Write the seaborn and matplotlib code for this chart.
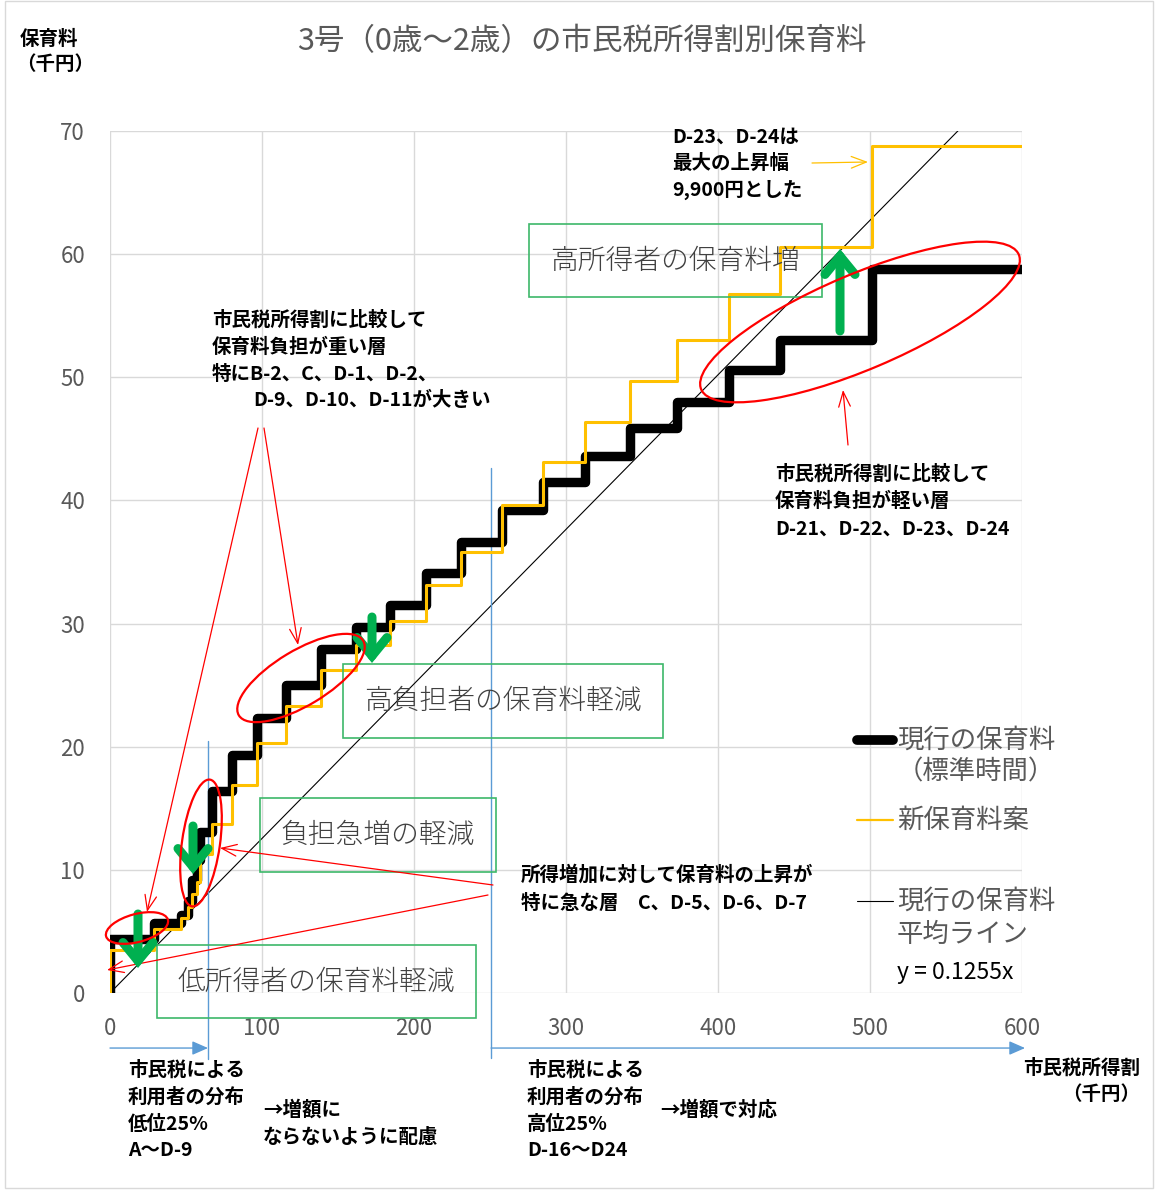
import numpy as np
import pandas as pd
import seaborn as sns
import matplotlib.pyplot as plt
from matplotlib.patches import Ellipse, Rectangle
from matplotlib.lines import Line2D

# --- data (千円) ---
bracket_start = [0, 29, 47, 51.5, 54, 57, 59.5, 67, 80, 96.5, 115.5, 139, 162, 184.5,
                 208, 231, 258, 285, 312.5, 342, 373, 407, 441, 501]
x_end = 600
fee_current = [4.4, 5.7, 6.3, 7.5, 9.2, 10.8, 13.1, 16.4, 19.3, 22.3, 25.0, 27.9, 29.7,
               31.5, 34.1, 36.6, 39.2, 41.5, 43.6, 45.9, 48.0, 50.6, 53.0, 58.8]
fee_new = [3.5, 5.2, 6.1, 7.0, 8.0, 9.0, 11.3, 13.7, 16.9, 20.3, 23.3, 26.2, 28.3,
           30.2, 33.1, 35.8, 39.6, 43.1, 46.4, 49.7, 53.0, 56.8, 60.6, 68.8]
avg_slope = 0.1255
low25_x = 64.5     # 低位25% boundary
high25_x = 250.7   # 高位25% boundary

# --- style ---
sns.set_theme(style="white")
plt.rcParams['font.family'] = ['Noto Sans CJK JP', 'DejaVu Sans']

W, H = 1155, 1191
fig = plt.figure(figsize=(W / 100, H / 100), dpi=100)
ax = fig.add_axes([110 / W, 1 - 993 / H, (1022 - 110) / W, (993 - 131) / H])
T = fig.dpi_scale_trans


def px(x, y):
    # reference pixel (from top-left) -> inches for dpi_scale_trans
    return x / 100, (H - y) / 100


def put_lines(x, y0, lines, dy, **kw):
    for i, s in enumerate(lines):
        fig.text(*px(x, y0 + i * dy), s, transform=T, va='center', **kw)


# step series
x_pts = [0] + bracket_start + [x_end]
df = pd.DataFrame({
    'income': x_pts,
    'current': [0] + fee_current + [fee_current[-1]],
    'new': [0] + fee_new + [fee_new[-1]],
})
x_ref = np.array([0, x_end])
df_ref = pd.DataFrame({'income': x_ref, 'avg': avg_slope * x_ref})

sns.lineplot(data=df_ref, x='income', y='avg', ax=ax, color='black', lw=0.8,
             estimator=None, sort=False, zorder=2)
sns.lineplot(data=df, x='income', y='current', ax=ax, color='black', lw=6.8,
             estimator=None, sort=False, drawstyle='steps-post',
             solid_joinstyle='round', solid_capstyle='round', zorder=3)
sns.lineplot(data=df, x='income', y='new', ax=ax, color='#FFC000', lw=2.2,
             estimator=None, sort=False, drawstyle='steps-post', zorder=4)

ax.set_xlim(0, 600)
ax.set_ylim(0, 70)
ax.set_xticks(range(0, 601, 100))
ax.set_yticks(range(0, 71, 10))
ax.set_xlabel('')
ax.set_ylabel('')
ax.grid(True, color='#D9D9D9', lw=1)
for s in ax.spines.values():
    s.set_visible(False)
ax.tick_params(axis='x', length=0, pad=17, labelsize=16, labelcolor='#595959')
ax.tick_params(axis='y', length=0, pad=18, labelsize=16, labelcolor='#595959')

# blue distribution boundaries and arrows
blue = '#5B9BD5'
ax.plot([low25_x, low25_x], [20.5, -5.4], color=blue, lw=1, clip_on=False, zorder=2)
ax.plot([high25_x, high25_x], [42.6, -5.3], color=blue, lw=1, clip_on=False, zorder=2)
ax.annotate('', xy=(low25_x, -4.47), xytext=(0, -4.47), annotation_clip=False,
            arrowprops=dict(arrowstyle='-|>,head_length=0.8,head_width=0.35',
                            color=blue, lw=1, shrinkA=0, shrinkB=0))
ax.annotate('', xy=(602, -4.47), xytext=(high25_x, -4.47), annotation_clip=False,
            arrowprops=dict(arrowstyle='-|>,head_length=0.8,head_width=0.35',
                            color=blue, lw=1, shrinkA=0, shrinkB=0))

# title and axis captions
fig.text(*px(582, 42), '3号（0歳～2歳）の市民税所得割別保育料', transform=T,
         ha='center', va='center', fontsize=22, color='#595959')
bold = dict(fontsize=14, fontweight='bold', color='black')
put_lines(20, 39, ['保育料'], 26, **bold)
put_lines(16, 65, ['（千円）'], 26, **bold)
put_lines(1140, 1068, ['市民税所得割', '（千円）'], 27, ha='right', **bold)

# green boxes
green_box = '#3DB86A'
boxes = [
    ((529, 224, 822, 297), '高所得者の保育料増'),
    ((343, 664, 663, 738), '高負担者の保育料軽減'),
    ((260, 798, 496, 872), '負担急増の軽減'),
    ((157, 945, 476, 1018), '低所得者の保育料軽減'),
]
for (x0, y0, x1, y1), label in boxes:
    fig.patches.append(Rectangle(px(x0, y1), (x1 - x0) / 100, (y1 - y0) / 100,
                                 transform=T, fill=False, ec=green_box, lw=1.2))
    fig.text(*px((x0 + x1) / 2, (y0 + y1) / 2), label, transform=T, ha='center',
             va='center', fontsize=20, fontweight='light', color='#404040')

# red ellipses
red = '#FF0000'
ellipses = [
    ((137, 928), 64, 28, 15),
    ((201, 843), 128, 38, 82),
    ((301, 678), 145, 55, 31),
    ((860, 322), 345, 95, 23),
]
for (cx, cy), w, h, ang in ellipses:
    fig.patches.append(Ellipse(px(cx, cy), w / 100, h / 100, angle=ang, transform=T,
                               fill=False, ec=red, lw=1.6, zorder=6))

# red pointer arrows
red_arrows = [
    ((258, 428), (147, 912)),
    ((264, 428), (298, 645)),
    ((493, 885), (220, 848)),
    ((488, 895), (107, 970)),
    ((848, 445), (843, 390)),
]
for (x0, y0), (x1, y1) in red_arrows:
    fig.add_artist(plt.Annotation('', xy=px(x1, y1), xytext=px(x0, y0), xycoords=T,
                                  textcoords=T,
                                  arrowprops=dict(arrowstyle='->,head_length=0.9,head_width=0.35',
                                                  color=red, lw=0.9, shrinkA=0, shrinkB=0)))
fig.add_artist(plt.Annotation('', xy=px(868, 162), xytext=px(812, 163), xycoords=T,
                              textcoords=T,
                              arrowprops=dict(arrowstyle='->,head_length=0.9,head_width=0.35',
                                              color='#FFC000', lw=0.9, shrinkA=0, shrinkB=0)))

# green thick arrows
green = '#00B050'
green_arrows = [
    ((138, 914), (138, 968)),
    ((193, 826), (193, 874)),
    ((372, 617), (372, 663)),
    ((840, 331), (840, 249)),
]
for (x0, y0), (x1, y1) in green_arrows:
    fig.add_artist(plt.Annotation('', xy=px(x1, y1), xytext=px(x0, y0), xycoords=T,
                                  textcoords=T,
                                  arrowprops=dict(arrowstyle='->,head_length=1.1,head_width=0.9',
                                                  color=green, lw=6.5, shrinkA=0, shrinkB=0,
                                                  joinstyle='miter')))

# annotation texts
put_lines(212, 320, ['市民税所得割に比較して', '保育料負担が重い層', '特にB-2、C、D-1、D-2、'], 27, **bold)
put_lines(253, 400, ['D-9、D-10、D-11が大きい'], 27, **bold)
put_lines(521, 875, ['所得増加に対して保育料の上昇が', '特に急な層　C、D-5、D-6、D-7'], 28, **bold)
put_lines(775, 474, ['市民税所得割に比較して', '保育料負担が軽い層', 'D-21、D-22、D-23、D-24'], 27.5, **bold)
put_lines(672, 137, ['D-23、D-24は', '最大の上昇幅', '9,900円とした'], 26.5, **bold)
put_lines(128, 1070, ['市民税による', '利用者の分布', '低位25%', 'A～D-9'], 27, **bold)
put_lines(263, 1110, ['→増額に', 'ならないように配慮'], 27, **bold)
put_lines(527, 1070, ['市民税による', '利用者の分布', '高位25%', 'D-16～D24'], 27, **bold)
put_lines(660, 1110, ['→増額で対応'], 27, **bold)

# legend (drawn like the original, beside the plot)
fig.add_artist(Line2D([857 / 100, 893 / 100], [(H - 740) / 100] * 2, transform=T,
                      color='black', lw=7, solid_capstyle='round'))
fig.add_artist(Line2D([857 / 100, 893 / 100], [(H - 820) / 100] * 2, transform=T,
                      color='#FFC000', lw=1.6))
fig.add_artist(Line2D([857 / 100, 893 / 100], [(H - 901) / 100] * 2, transform=T,
                      color='black', lw=0.8))
leg = dict(fontsize=19, color='#595959')
put_lines(897, 740, ['現行の保育料', '（標準時間）'], 32, **leg)
put_lines(897, 820, ['新保育料案'], 32, **leg)
put_lines(897, 901, ['現行の保育料', '平均ライン'], 33, **leg)
put_lines(897, 972, ['y = 0.1255x'], 30, fontsize=16.5, color='black')

# outer chart frame
fig.patches.append(Rectangle(px(5, 1188), (1153 - 5) / 100, (1188 - 1) / 100, transform=T,
                             fill=False, ec='#D9D9D9', lw=1))

fig.savefig('out.png', dpi=100)
